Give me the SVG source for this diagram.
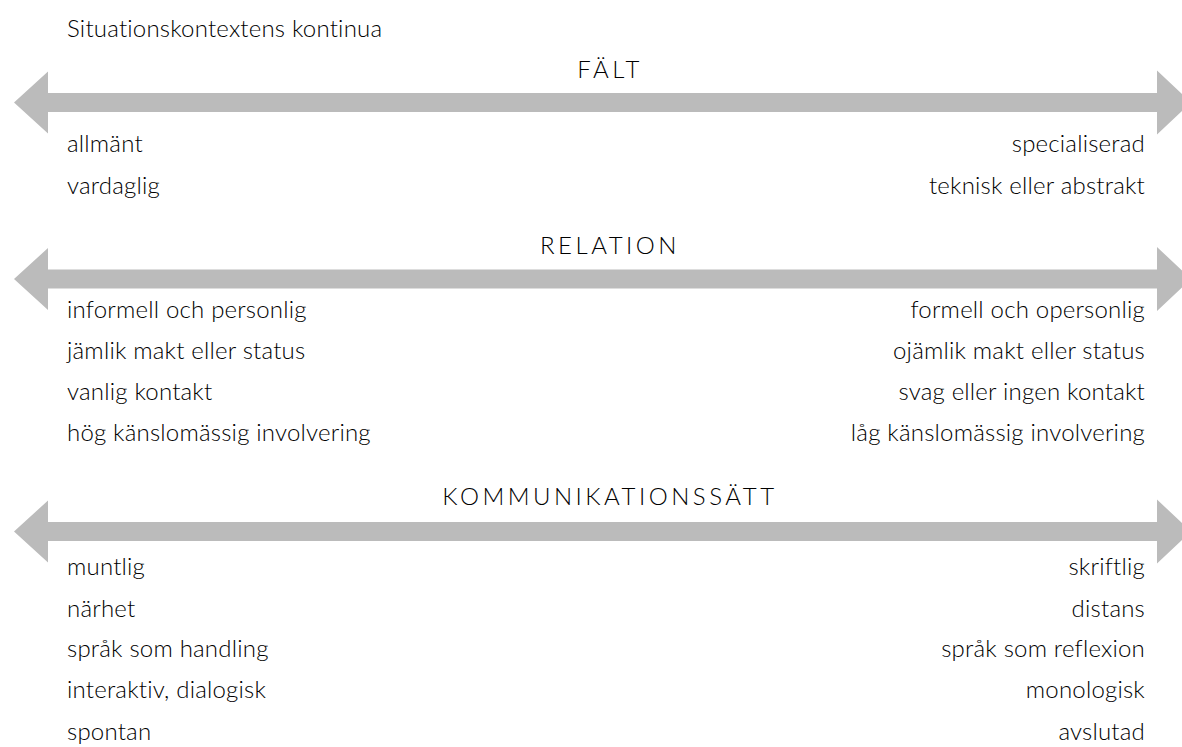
<svg xmlns="http://www.w3.org/2000/svg" width="1182" height="747" viewBox="0 0 1182 747">
<style>
text{font-family:"Lato","Open Sans","DejaVu Sans",sans-serif;font-size:24px;font-weight:300;fill:#000000;letter-spacing:0.2px}
.h{text-anchor:middle;letter-spacing:3.5px}
.r{text-anchor:end}
.arrow{fill:#bbbbbb}
</style>
<defs>
<path id="dbl" d="M14,0 L48,-31 L48,-9.5 L1157,-9.5 L1157,-32 L1191,0 L1157,32 L1157,9.5 L48,9.5 L48,31 Z"/>
</defs>
<rect width="1182" height="747" fill="#ffffff"/>
<g id="title"><text x="67" y="37">Situationskontextens kontinua</text></g>
<g id="connectors">
<use href="#dbl" class="arrow" transform="translate(0,102.5)"/>
<use href="#dbl" class="arrow" transform="translate(0,279)"/>
<use href="#dbl" class="arrow" transform="translate(0,531.5)"/>
</g>
<g id="falt">
<text class="h" x="610" y="78">FÄLT</text>
<text x="67" y="152">allmänt</text>
<text x="67" y="194">vardaglig</text>
<text class="r" x="1145" y="152">specialiserad</text>
<text class="r" x="1145" y="194">teknisk eller abstrakt</text>
</g>
<g id="relation">
<text class="h" x="610" y="254">RELATION</text>
<text x="67" y="318">informell och personlig</text>
<text x="67" y="359">jämlik makt eller status</text>
<text x="67" y="400">vanlig kontakt</text>
<text x="67" y="441">hög känslomässig involvering</text>
<text class="r" x="1145" y="318">formell och opersonlig</text>
<text class="r" x="1145" y="359">ojämlik makt eller status</text>
<text class="r" x="1145" y="400">svag eller ingen kontakt</text>
<text class="r" x="1145" y="441">låg känslomässig involvering</text>
</g>
<g id="kommunikation">
<text class="h" x="610" y="505">KOMMUNIKATIONSSÄTT</text>
<text x="67" y="575">muntlig</text>
<text x="67" y="617">närhet</text>
<text x="67" y="657">språk som handling</text>
<text x="67" y="698">interaktiv, dialogisk</text>
<text x="67" y="740">spontan</text>
<text class="r" x="1145" y="575">skriftlig</text>
<text class="r" x="1145" y="617">distans</text>
<text class="r" x="1145" y="657">språk som reflexion</text>
<text class="r" x="1145" y="698">monologisk</text>
<text class="r" x="1145" y="740">avslutad</text>
</g>
</svg>
